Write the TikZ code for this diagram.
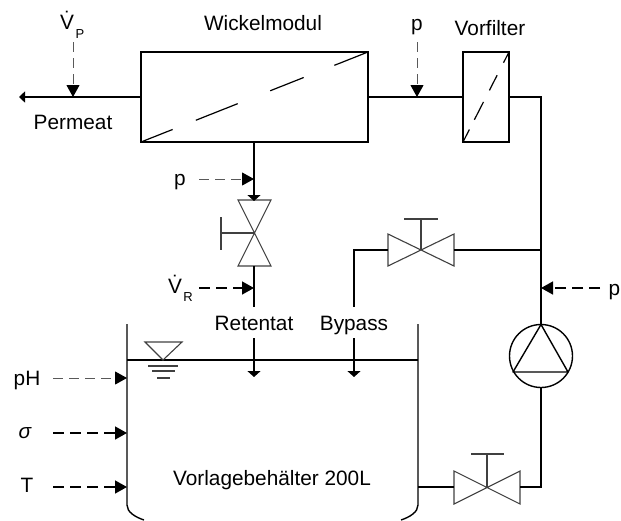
\documentclass[tikz,border=0pt]{standalone}
\usepackage{fontspec}
\setmainfont{Liberation Sans}
\usetikzlibrary{arrows.meta,calc}
\tikzset{
  pipe/.style={draw=black,line width=1.4pt},
  thin sym/.style={draw=black!75,line width=1.1pt},
  drop/.style={pipe,-{Triangle[length=6pt,width=13pt]}},
  sig/.style={draw=black!65,line width=1pt,dash pattern=on 10pt off 6pt,-{Triangle[length=12pt,width=13pt,color=black]}},
  sigb/.style={draw=black,line width=1.5pt,dash pattern=on 11pt off 6pt,-{Triangle[length=12pt,width=13pt,color=black]}},
  memb/.style={draw=black,line width=1.2pt},
  box/.style={draw=black,line width=1.4pt,minimum height=90pt,inner sep=0pt,outer sep=0pt},
  lab/.style={anchor=base,inner sep=0pt,font=\fontsize{20.8}{24}\selectfont},
  sub/.style={anchor=base,inner sep=0pt,font=\fontsize{13}{15}\selectfont},
}
\begin{document}
\begin{tikzpicture}[x=1pt,y=-1pt]
\useasboundingbox (0,0) rectangle (621,520);
% boxes
\node[box,minimum width=227pt] (modul) at (254.5,97) {};
\node[box,minimum width=46pt] (filter) at (486,97) {};
\draw[memb,dash pattern=on 34pt off 25pt on 45pt off 35pt on 36pt off 33pt on 40pt off 100pt] (modul.south west) -- (modul.north east);
\draw[memb,dash pattern=on 14pt off 11pt on 20pt off 13pt on 17pt off 14pt on 16pt off 50pt] (filter.south west) -- (filter.north east);
% coordinates
\coordinate (outl) at (19,97);
\coordinate (vpj) at (73,97);
\coordinate (pj) at (417,97);
\coordinate (c1) at (541,97);
\coordinate (c2) at (541,250);
\coordinate (pr) at (541,288);
\coordinate (v1b) at (254,266);
\coordinate (v1c) at (254,233);
\coordinate (v2l) at (388,250);
\coordinate (v2r) at (454,250);
\coordinate (v2c) at (421,250);
\coordinate (v3l) at (454,487);
\coordinate (v3r) at (520,487);
\coordinate (v3c) at (487,487);
\coordinate (bpc) at (354,250);
% pump
\node[draw=black,line width=1.4pt,circle,minimum size=63pt,inner sep=0pt,outer sep=0pt] (pump) at (541,356) {};
\draw[pipe,line join=round] (pump.north) -- (513,372) -- (568,372) -- cycle;
% valves
\draw[thin sym] (238,200) -- (271,200) -- (238,266) -- (271,266) -- cycle;
\draw[thin sym] (v1c) -- (221,233);
\draw[thin sym] (221,217) -- (221,250);
\draw[thin sym] (388,234) -- (454,266) -- (454,234) -- (388,266) -- cycle;
\draw[thin sym] (v2c) -- (421,219);
\draw[thin sym] (404,219) -- (438,219);
\draw[thin sym] (454,471) -- (520,504) -- (520,471) -- (454,504) -- cycle;
\draw[thin sym] (v3c) -- (487,454);
\draw[thin sym] (471,454) -- (504,454);
% labels
\node[lab] (wm) at (263,30) {Wickelmodul};
\node[lab] (vf) at (490,35) {Vorfilter};
\node[lab] (pm) at (73,129) {Permeat};
\node[lab] (ptop) at (417,30) {p};
\node[lab] (pmid) at (180,185) {p};
\node[lab] (pright) at (614.5,295) {p};
\node[lab] (ret) at (254,330) {Retentat};
\node[lab] (byp) at (354,330) {Bypass};
\node[lab] (vb) at (272,485) {Vorlagebehälter 200L};
\node[lab] (ph) at (27,385) {pH};
\node[lab] (sg) at (25,438) {\itshape σ};
\node[lab] (tt) at (27,492) {T};
\node[lab] (vp) at (67,29) {\.{V}};
\node[sub] (vps) at (80,38) {P};
\node[lab] (vr) at (175,293) {\.{V}};
\node[sub] (vrs) at (188,301) {R};
% pipes
\draw[pipe,-{Triangle[length=6pt,width=11pt]}] (modul.west) -- (outl);
\draw[pipe] (modul.east) -- (filter.west);
\draw[pipe] (filter.east) -- (c1) -- (pump.north);
\draw[pipe] (c2) -- (v2r);
\draw[pipe] (v2l) -- (bpc) -- (354,307);
\draw[drop] (modul.south -| v1c) -- (254,201);
\draw[pipe] (v1b) -- (254,307);
\draw[drop] (254,338) -- (254,377);
\draw[drop] (354,338) -- (354,377);
\draw[pipe] (pump.south) -- (541,487) -- (v3r);
\draw[pipe] (v3l) -- (418,487);
% tank
\draw[pipe] (127,324) -- (127,505) .. controls (127,512) and (135,517) .. (144,520);
\draw[pipe] (418,324) -- (418,505) .. controls (418,512) and (410,517) .. (401,520);
\draw[pipe] (127,360) -- (418,360);
% level
\draw[thin sym] (145,342) -- (182,342) -- (163,360) -- cycle;
\draw[thin sym] (148,366) -- (178,366);
\draw[thin sym] (152,371) -- (175,371);
\draw[thin sym] (157,378) -- (170,378);
% signals
\draw[sig] (73,42) -- (vpj);
\draw[sig] (417,42) -- (pj);
\draw[sig] (199,179) -- (254,179);
\draw[sigb] (199,288) -- (254,288);
\draw[sigb] (600,288) -- (pr);
\draw[sig] (53,378) -- (127,378);
\draw[sigb] (53,433) -- (127,433);
\draw[sigb] (53,487) -- (127,487);
\end{tikzpicture}
\end{document}
